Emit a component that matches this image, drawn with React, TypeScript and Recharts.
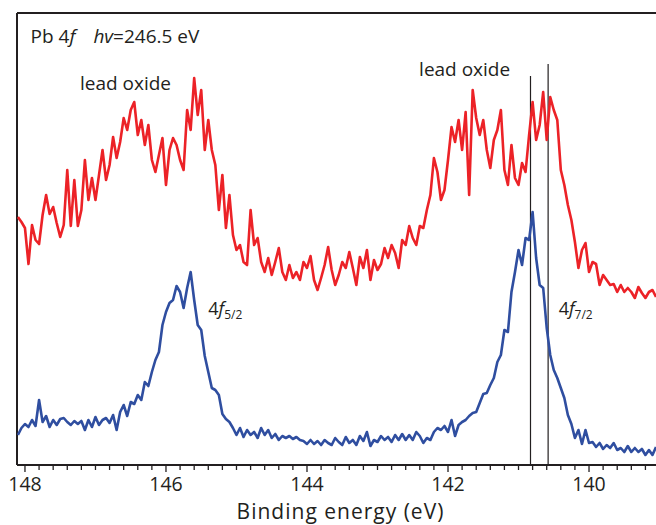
import { Line, LineChart, ReferenceDot, ReferenceLine, XAxis, YAxis } from "recharts";

// binding energy grid, 148.10 → 139.05 eV in 0.05 eV steps
const energies = Array.from({ length: 182 }, (_, i) => +(148.1 - 0.05 * i).toFixed(2));

// lead oxide covered film (red), counts in arb. units
const oxideCounts = [
  248, 243, 237, 201, 240, 225, 221, 250, 270, 251, 258, 242, 228, 240, 295, 239, 285, 239, 255, 305,
  265, 287, 265, 290, 315, 285, 300, 328, 307, 323, 347, 335, 355, 363, 330, 345, 320, 340, 305, 293,
  310, 327, 280, 315, 327, 320, 305, 295, 355, 335, 387, 350, 375, 315, 345, 315, 300, 255, 290, 237,
  270, 230, 215, 220, 203, 200, 255, 220, 227, 203, 193, 207, 190, 203, 217, 193, 185, 200, 187, 193,
  185, 203, 197, 209, 185, 175, 187, 200, 218, 195, 180, 190, 203, 197, 213, 197, 180, 208, 197, 215,
  185, 205, 195, 201, 217, 207, 220, 212, 197, 225, 220, 239, 227, 220, 239, 237, 255, 270, 307, 293,
  265, 275, 305, 338, 323, 345, 315, 353, 270, 375, 347, 330, 345, 315, 297, 325, 335, 355, 295, 280,
  320, 287, 280, 302, 293, 330, 363, 325, 340, 373, 325, 368, 355, 345, 295, 280, 260, 245, 223, 197,
  215, 222, 193, 203, 201, 180, 190, 185, 180, 181, 173, 180, 173, 177, 173, 167, 178, 172, 167, 173,
  175, 168,
];

// clean Pb metal (blue)
const metalCounts = [
  30, 37, 41, 38, 45, 39, 65, 43, 49, 38, 45, 40, 46, 47, 43, 40, 44, 41, 44, 35,
  45, 38, 48, 40, 45, 47, 42, 50, 35, 53, 60, 49, 63, 61, 70, 65, 83, 79, 93, 105,
  113, 140, 153, 162, 165, 179, 173, 157, 177, 193, 165, 140, 135, 109, 93, 77, 75, 70, 51, 46,
  43, 37, 30, 37, 28, 35, 30, 33, 27, 37, 30, 35, 27, 31, 25, 29, 27, 29, 26, 28,
  25, 24, 21, 25, 21, 24, 20, 25, 22, 20, 27, 23, 20, 28, 22, 25, 20, 29, 24, 33,
  19, 25, 23, 29, 25, 28, 23, 30, 25, 31, 25, 30, 25, 33, 29, 22, 27, 25, 33, 37,
  35, 39, 33, 45, 29, 40, 43, 45, 49, 52, 53, 62, 71, 72, 80, 87, 103, 110, 135, 133,
  173, 193, 215, 200, 227, 225, 253, 207, 180, 177, 137, 110, 95, 87, 77, 67, 50, 41, 27, 35,
  21, 35, 22, 23, 18, 22, 16, 20, 17, 22, 15, 17, 13, 19, 13, 17, 13, 16, 10, 15,
  10, 18,
];

const majorTicks = [148, 146, 144, 142, 140];
const peakLines = [140.83, 140.58];
const peakLineTops = [389, 401];

const X_MIN = 139.05;
const X_MAX = 148.113;
const Y_MAX = 452;

const minorTicks: number[] = [];
for (let k = 0; k <= 44; k++) minorTicks.push(+(139.2 + 0.2 * k).toFixed(1));

const data = energies.map((e, i) => ({ e, oxide: oxideCounts[i], metal: metalCounts[i] }));

const INK = "#231f20";
const FONT = "'Open Sans', sans-serif";

function AxisTick({ x, y, payload }: any) {
  const major = majorTicks.includes(payload.value);
  return (
    <g>
      <line x1={x} x2={x} y1={y} y2={y + (major ? 7 : 5)} stroke={INK} strokeWidth={1.3} />
      {major && (
        <text x={x} y={y + 25.5} textAnchor="middle" fontSize={19.5} fontFamily={FONT} fill={INK}>
          {payload.value}
        </text>
      )}
    </g>
  );
}

const note = (render: (x: number, y: number) => any) => ({
  content: (p: any) => render(p.viewBox.x + p.viewBox.width / 2, p.viewBox.y + p.viewBox.height / 2),
});

export default function App() {
  return (
    <div style={{ position: "absolute", left: 0, top: 0 }}>
      <LineChart width={656} height={525} data={data} margin={{ top: 13, right: 0, bottom: 0, left: 17 }}>
        <XAxis
          dataKey="e"
          type="number"
          domain={[X_MIN, X_MAX]}
          allowDataOverflow
          reversed
          ticks={minorTicks}
          interval={0}
          tickSize={0}
          tickMargin={0}
          tick={<AxisTick />}
          height={60}
          axisLine={{ stroke: INK, strokeWidth: 2 }}
          label={{
            content: (p: any) => (
              <text x={p.viewBox.x + p.viewBox.width / 2 + 4} y={p.viewBox.y + 53.5} textAnchor="middle" fontSize={21} letterSpacing={1} fontFamily={FONT} fill={INK}>
                Binding energy (eV)
              </text>
            ),
          }}
        />
        <YAxis type="number" domain={[0, Y_MAX]} allowDataOverflow width={0} tick={false} tickLine={false} axisLine={false} />
        {/* frame: left and top */}
        <ReferenceLine x={X_MAX} stroke={INK} strokeWidth={2} ifOverflow="visible" />
        <ReferenceLine y={Y_MAX} stroke={INK} strokeWidth={2} ifOverflow="visible" />
        {peakLines.map((x, i) => (
          <ReferenceLine key={x} segment={[{ x, y: 0 }, { x, y: peakLineTops[i] }]} stroke={INK} strokeWidth={1.2} />
        ))}
        <Line dataKey="oxide" stroke="#ec2227" strokeWidth={2.6} dot={false} isAnimationActive={false} strokeLinejoin="round" />
        <Line dataKey="metal" stroke="#2f4ea0" strokeWidth={2.6} dot={false} isAnimationActive={false} strokeLinejoin="round" />
        <ReferenceDot x={147.92} y={422} r={1} fill="none" stroke="none" label={note((x, y) => (
          <text x={x} y={y} fontSize={19} fontFamily={FONT} fill={INK}>
            Pb 4<tspan fontStyle="italic">f</tspan>
            <tspan dx={18} fontStyle="italic">hv</tspan>=246.5 eV
          </text>
        ))} />
        <ReferenceDot x={147.22} y={375} r={1} fill="none" stroke="none" label={note((x, y) => (
          <text x={x} y={y} fontSize={19} fontFamily={FONT} fill={INK}>lead oxide</text>
        ))} />
        <ReferenceDot x={142.41} y={389} r={1} fill="none" stroke="none" label={note((x, y) => (
          <text x={x} y={y} fontSize={19} fontFamily={FONT} fill={INK}>lead oxide</text>
        ))} />
        <ReferenceDot x={145.4} y={150} r={1} fill="none" stroke="none" label={note((x, y) => (
          <text x={x} y={y} fontSize={18} fontFamily={FONT} fill={INK}>
            4<tspan fontStyle="italic">f</tspan><tspan fontSize={12} dy={4}>5/2</tspan>
          </text>
        ))} />
        <ReferenceDot x={140.43} y={150} r={1} fill="none" stroke="none" label={note((x, y) => (
          <text x={x} y={y} fontSize={18} fontFamily={FONT} fill={INK}>
            4<tspan fontStyle="italic">f</tspan><tspan fontSize={12} dy={4}>7/2</tspan>
          </text>
        ))} />
      </LineChart>
    </div>
  );
}
